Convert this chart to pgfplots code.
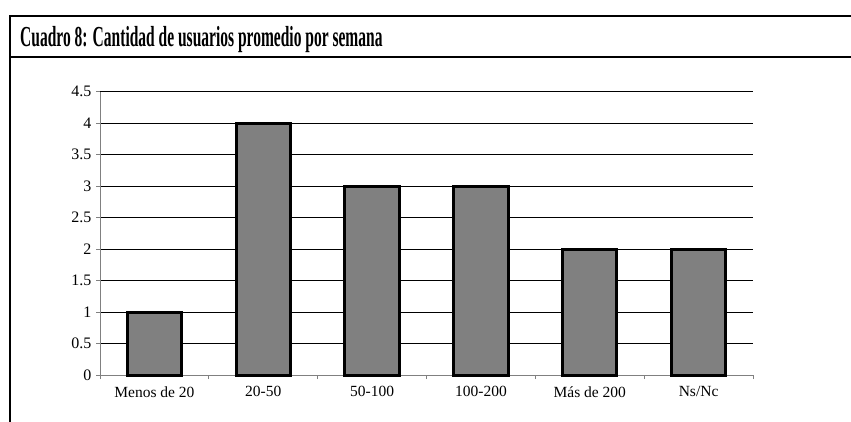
\documentclass[border=0pt]{standalone}
\usepackage{fontspec}
\setmainfont{Liberation Serif}
\usepackage{graphicx}
\usepackage{pgfplots}
\pgfplotsset{compat=1.18}
\definecolor{bargray}{RGB}{128,128,128}
\definecolor{axgray}{RGB}{128,128,128}
\begin{document}
\begin{tikzpicture}[x=1pt,y=1pt]
\useasboundingbox (0,0) rectangle (851,-421);
\fill[white] (0,0) rectangle (851,-421);
\draw[line width=2pt] (10.3,-422) -- (10.3,-15.7) -- (852,-15.7);
\draw[line width=2pt] (10.3,-56.7) -- (852,-56.7);
\node[anchor=base west, inner sep=0pt] at (20,-46) {\scalebox{0.535}[1]{\fontsize{29}{29}\selectfont\bfseries Cuadro 8: Cantidad de usuarios promedio por semana}};
\begin{axis}[
  at={(100pt,-375pt)}, anchor=south west,
  scale only axis, width=653pt, height=283.5pt,
  xmin=-0.5, xmax=5.5, ymin=0, ymax=4.5,
  axis x line=bottom, axis y line=left,
  axis line style={draw=axgray, line width=0.9pt, -},
  ytick={0,0.5,...,4.5},
  ymajorgrids, grid style={black, line width=0.8pt},
  xtick={-0.5,0.5,...,5.5}, xticklabels={},
  extra x ticks={0,1,2,3,4,5},
  extra x tick labels={Menos de 20,20-50,50-100,100-200,Más de 200,Ns/Nc},
  extra x tick style={major tick length=0pt, tick style={draw=none}, grid=none},
  tick align=outside, major tick length=4pt,
  tick style={draw=axgray, line width=0.9pt},
  /pgf/number format/assume math mode=true,
  yticklabel style={font=\fontsize{16}{16}\selectfont, xshift=-1pt},
  xticklabel style={font=\fontsize{15.5}{15.5}\selectfont, yshift=-8pt},
  clip=false,
]
\addplot[ybar, bar width=54.4pt, fill=bargray, draw=black, line width=3pt]
  coordinates {(0,1) (1,4) (2,3) (3,3) (4,2) (5,2)};
\end{axis}
\end{tikzpicture}
\end{document}
